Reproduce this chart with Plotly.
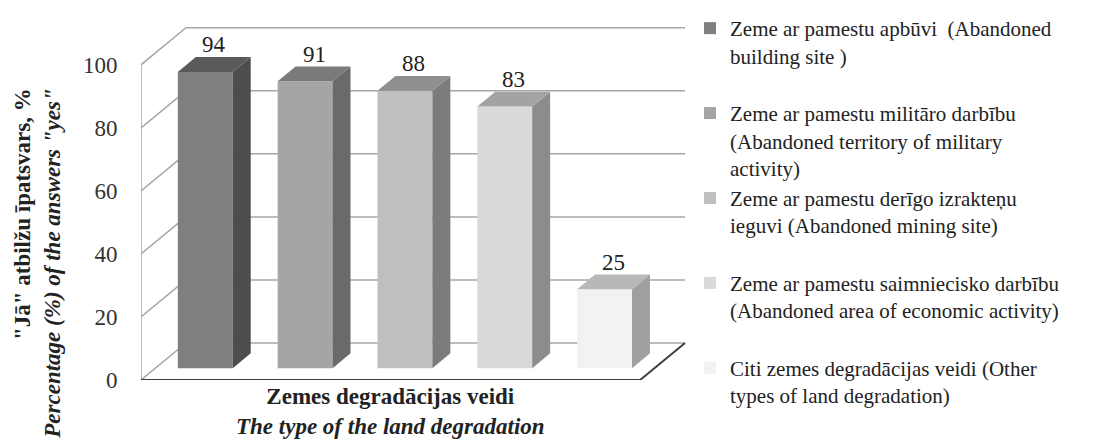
import plotly.graph_objects as go

# ---------------- data ----------------
legend_names = [
    "Zeme ar pamestu apbūvi  (Abandoned<br>building site )",
    "Zeme ar pamestu militāro darbību<br>(Abandoned territory of military<br>activity)",
    "Zeme ar pamestu derīgo izrakteņu<br>ieguvi (Abandoned mining site)",
    "Zeme ar pamestu saimniecisko darbību<br>(Abandoned area of economic activity)",
    "Citi zemes degradācijas veidi (Other<br>types of land degradation)",
]
values = [94, 91, 88, 83, 25]
y_ticks = [0, 20, 40, 60, 80, 100]

front_colors = ["#7f7f7f", "#a5a5a5", "#bfbfbf", "#d9d9d9", "#f2f2f2"]
side_colors = ["#4d4d4d", "#6a6a6a", "#7c7c7c", "#8c8c8c", "#a0a0a0"]
top_colors = ["#5a5a5a", "#7a7a7a", "#8f8f8f", "#a3a3a3", "#b8b8b8"]

y_title = "<b>\"Jā\" atbilžu īpatsvars, %</b><br><b><i>Percentage (%) of the answers \"yes\"</i></b>"
x_title = "<b>Zemes degradācijas veidi</b><br><b><i>The type of the land degradation</i></b>"

# ---------------- pseudo-3D geometry (axis units) ----------------
HALF_W = 0.275      # half bar width (category units)
D0, D1 = 0.32, 0.72  # bar front / back depth fraction
DX, DY = 0.45, 11.75  # offset of the back wall (x units, y units)
X_LO, X_HI = -0.5, len(values) - 0.5
FONT = "Liberation Serif, Times New Roman, serif"
GRID = "#a6a6a6"
DARK = "#3f3f3f"
FS = 23

fig = go.Figure()

# front faces as real bars
for i, (name, v) in enumerate(zip(legend_names, values)):
    n_lines = name.count("<br>") + 1
    padded = name + "<br>&nbsp;" * (3 - n_lines)
    fig.add_trace(go.Bar(
        x=[i], y=[v], base=D0 * DY, width=2 * HALF_W, offset=-HALF_W + D0 * DX,
        marker=dict(color=front_colors[i], line=dict(width=0)),
        name=padded, legendgroup=f"g{i}", hoverinfo="skip",
    ))

# side and top faces
for i, v in enumerate(values):
    xr0, xr1 = i + HALF_W + D0 * DX, i + HALF_W + D1 * DX
    xl0, xl1 = i - HALF_W + D0 * DX, i - HALF_W + D1 * DX
    fig.add_trace(go.Scatter(
        x=[xr0, xr1, xr1, xr0, xr0],
        y=[D0 * DY, D1 * DY, v + D1 * DY, v + D0 * DY, D0 * DY],
        fill="toself", fillcolor=side_colors[i], mode="lines",
        line=dict(width=0, color=side_colors[i]), showlegend=False, hoverinfo="skip",
    ))
    fig.add_trace(go.Scatter(
        x=[xl0, xr0, xr1, xl1, xl0],
        y=[v + D0 * DY, v + D0 * DY, v + D1 * DY, v + D1 * DY, v + D0 * DY],
        fill="toself", fillcolor=top_colors[i], mode="lines",
        line=dict(width=0, color=top_colors[i]), showlegend=False, hoverinfo="skip",
    ))

# walls and gridlines
shapes = []
for t in y_ticks:
    shapes.append(dict(type="line", xref="x", yref="y", layer="below",
                       x0=X_LO + DX, x1=X_HI + DX, y0=t + DY, y1=t + DY,
                       line=dict(color=GRID, width=1.5)))
    shapes.append(dict(type="line", xref="x", yref="y", layer="below",
                       x0=X_LO, x1=X_LO + DX, y0=t, y1=t + DY,
                       line=dict(color=GRID, width=1.5)))
shapes.append(dict(type="line", xref="x", yref="y", layer="below",
                   x0=X_LO, x1=X_LO, y0=0, y1=y_ticks[-1],
                   line=dict(color=GRID, width=1.5)))
shapes.append(dict(type="line", xref="x", yref="y", layer="below",
                   x0=X_LO, x1=X_HI, y0=0, y1=0, line=dict(color=DARK, width=2)))
shapes.append(dict(type="line", xref="x", yref="y", layer="below",
                   x0=X_HI, x1=X_HI + DX, y0=0, y1=DY, line=dict(color=DARK, width=2)))

annotations = []
for i, v in enumerate(values):
    annotations.append(dict(
        x=i + 0.52 * DX, y=v + D1 * DY, xref="x", yref="y", text=str(v),
        showarrow=False, yanchor="bottom", xanchor="center", yshift=-2,
        font=dict(family=FONT, size=FS, color="#222"),
    ))
annotations.append(dict(
    x=-0.19, y=0.83, xref="paper", yref="paper", text=y_title, textangle=-90,
    showarrow=False, xanchor="center", yanchor="top", align="right",
    font=dict(family=FONT, size=FS, color="#222"),
))
annotations.append(dict(
    x=(X_LO + X_HI) / 2, y=-0.09, xref="x", yref="paper", text=x_title,
    showarrow=False, xanchor="center", yanchor="middle", align="center",
    font=dict(family=FONT, size=FS, color="#222"),
))

fig.update_layout(
    width=1104, height=442,
    margin=dict(l=133, r=422, t=19, b=70, autoexpand=False),
    paper_bgcolor="white", plot_bgcolor="white",
    barmode="overlay",
    shapes=shapes, annotations=annotations,
    showlegend=True,
    legend=dict(
        x=682 / 1104, xref="container", xanchor="left",
        y=1, yref="container", yanchor="top",
        font=dict(family=FONT, size=21, color="#222"),
        valign="top", tracegroupgap=0, bgcolor="rgba(0,0,0,0)",
        maxheight=442,
    ),
    xaxis=dict(range=[X_LO, X_HI + 0.5], visible=False, fixedrange=True),
    yaxis=dict(
        range=[0, 112], tickvals=y_ticks, showgrid=False, zeroline=False, showline=False,
        ticks="outside", ticklen=18, tickcolor="rgba(0,0,0,0)",
        tickfont=dict(family=FONT, size=FS, color="#333"), fixedrange=True,
    ),
)

fig.write_html("out.html")
